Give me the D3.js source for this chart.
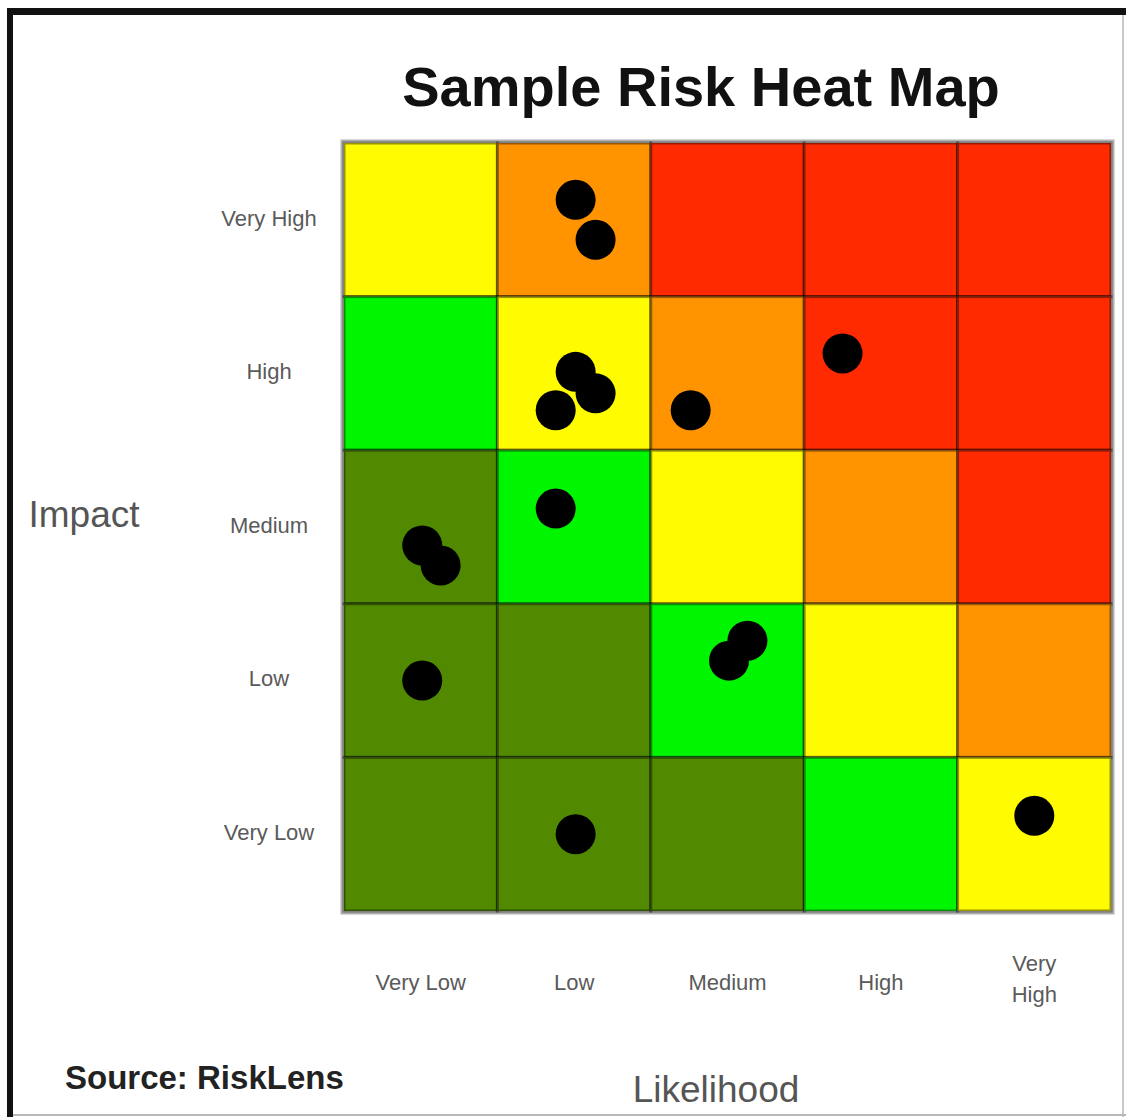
<!DOCTYPE html>
<html>
<head>
<meta charset="utf-8">
<script src="https://cdn.jsdelivr.net/npm/d3@7"></script>
<style>
  body { margin: 0; background: #fff; }
  svg { display: block; font-family: "Liberation Sans", Arial, sans-serif; }
</style>
</head>
<body>
<div id="chart"></div>
<script>
// categories (likelihood left->right, impact bottom->top)
var likelihood = ["Very Low", "Low", "Medium", "High", "Very High"]
var impact = ["Very Low", "Low", "Medium", "High", "Very High"]

// risk level per cell, rows from Very High impact down to Very Low
var levels = [
  [2, 3, 4, 4, 4],
  [1, 2, 3, 4, 4],
  [0, 1, 2, 3, 4],
  [0, 0, 1, 2, 3],
  [0, 0, 0, 1, 2]
]
var levelColors = ["#518a00", "#00f500", "#fffb00", "#ff9400", "#ff2a00"]

// risk points, position in cell units (0..5) on each axis
var pointLikelihood = [1.51, 1.64, 1.51, 1.64, 1.38, 2.26, 3.25, 1.38, 0.51, 0.63, 2.63, 2.51, 0.51, 1.51, 4.50]
var pointImpact     = [4.63, 4.37, 3.51, 3.37, 3.26, 3.26, 3.63, 2.62, 2.38, 2.25, 1.76, 1.63, 1.50, 0.50, 0.62]

var W = 1126, H = 1117
var gridLeft = 344, gridRight = 1111, gridTop = 143, gridBottom = 911

var svg = d3.select("#chart").append("svg")
    .attr("width", W)
    .attr("height", H)

// frame round the picture
svg.append("rect").attr("x", 7).attr("y", 8).attr("width", W - 7).attr("height", 7).attr("fill", "#111")
svg.append("rect").attr("x", 7).attr("y", 8).attr("width", 6).attr("height", H - 8).attr("fill", "#111")
svg.append("rect").attr("x", 1122).attr("y", 15).attr("width", 2).attr("height", H - 15).attr("fill", "#c8c8c8")
svg.append("rect").attr("x", 13).attr("y", 1114).attr("width", W - 13).attr("height", 2).attr("fill", "#b8b8b8")

// scales
var x = d3.scaleBand().domain(likelihood).range([gridLeft, gridRight])
var y = d3.scaleBand().domain(impact.slice().reverse()).range([gridTop, gridBottom])
var xl = d3.scaleLinear().domain([0, 5]).range([gridLeft, gridRight])
var yl = d3.scaleLinear().domain([0, 5]).range([gridBottom, gridTop])

// outer grey border
svg.append("rect")
    .attr("x", gridLeft - 2).attr("y", gridTop - 2)
    .attr("width", gridRight - gridLeft + 4).attr("height", gridBottom - gridTop + 4)
    .attr("fill", "none")
    .attr("stroke", "#b0b0b0")
    .attr("stroke-width", 3)

// cells
var cells = []
impact.slice().reverse().forEach(function(imp, r) {
  likelihood.forEach(function(lik, c) {
    cells.push({imp: imp, lik: lik, level: levels[r][c]})
  })
})

svg.selectAll(".cell")
    .data(cells)
  .enter().append("rect")
    .attr("class", "cell")
    .attr("x", d => x(d.lik))
    .attr("y", d => y(d.imp))
    .attr("width", x.bandwidth())
    .attr("height", y.bandwidth())
    .attr("fill", d => levelColors[d.level])
    .attr("stroke", "rgba(0,0,0,0.4)")
    .attr("stroke-width", 3)

// points
svg.selectAll(".dot")
    .data(pointLikelihood)
  .enter().append("circle")
    .attr("class", "dot")
    .attr("cx", d => xl(d))
    .attr("cy", (d, i) => yl(pointImpact[i]))
    .attr("r", 20)
    .attr("fill", "#000")

// impact labels
svg.selectAll(".ylab")
    .data(impact)
  .enter().append("text")
    .attr("class", "ylab")
    .attr("x", 269)
    .attr("y", d => y(d) + y.bandwidth() / 2 - 2)
    .attr("dy", "0.35em")
    .attr("text-anchor", "middle")
    .attr("font-size", 22)
    .attr("fill", "#5a5a5a")
    .text(d => d)

// likelihood labels ("Very High" wraps)
svg.selectAll(".xlab")
    .data(likelihood)
  .enter().append("text")
    .attr("class", "xlab")
    .attr("text-anchor", "middle")
    .attr("font-size", 22)
    .attr("fill", "#5a5a5a")
    .each(function(d) {
      var t = d3.select(this)
      var cx = x(d) + x.bandwidth() / 2
      if (d == "Very High") {
        t.append("tspan").attr("x", cx).attr("y", 971).text("Very")
        t.append("tspan").attr("x", cx).attr("y", 1002).text("High")
      } else {
        t.attr("x", cx).attr("y", 990).text(d)
      }
    })

// titles
svg.append("text")
    .attr("x", 701).attr("y", 106)
    .attr("text-anchor", "middle")
    .attr("font-size", 56)
    .attr("font-weight", "bold")
    .attr("fill", "#111")
    .text("Sample Risk Heat Map")

svg.append("text")
    .attr("x", 84).attr("y", 527)
    .attr("text-anchor", "middle")
    .attr("font-size", 37)
    .attr("fill", "#555")
    .text("Impact")

svg.append("text")
    .attr("x", 716).attr("y", 1102)
    .attr("text-anchor", "middle")
    .attr("font-size", 37)
    .attr("fill", "#555")
    .text("Likelihood")

svg.append("text")
    .attr("x", 65).attr("y", 1089)
    .attr("font-size", 33)
    .attr("font-weight", "bold")
    .attr("fill", "#222")
    .text("Source: RiskLens")
</script>
</body>
</html>
